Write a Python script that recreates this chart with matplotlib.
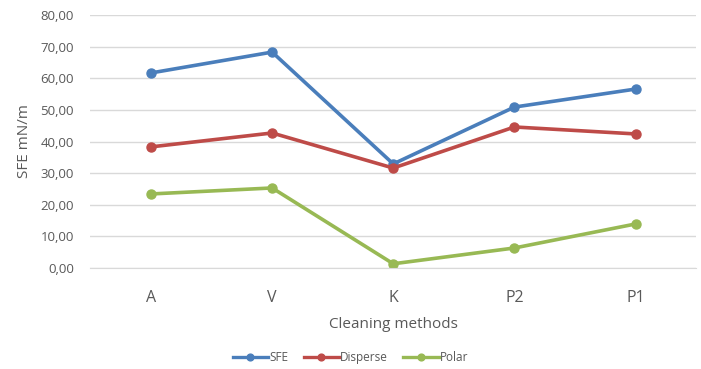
import matplotlib
matplotlib.use("Agg")
import matplotlib.pyplot as plt
from matplotlib.ticker import FuncFormatter

plt.rcParams['font.family'] = ['Open Sans', 'DejaVu Sans']

# cleaning methods and surface free energy components (mN/m)
methods = ["A", "V", "K", "P2", "P1"]
sfe = [61.7, 68.3, 32.9, 50.9, 56.6]
disperse = [38.3, 42.7, 31.6, 44.6, 42.4]
polar = [23.4, 25.3, 1.3, 6.3, 13.9]

text_col = "#595959"

fig = plt.figure(figsize=(7.01, 3.69), dpi=100)
ax = fig.add_axes([0.129, 0.274, 0.864, 0.685])

x = list(range(len(methods)))
ax.plot(x, sfe, color="#4A7EBB", lw=2.6, marker="o", ms=6.5, label="SFE")
ax.plot(x, disperse, color="#BE4B48", lw=2.6, marker="o", ms=6.5, label="Disperse")
ax.plot(x, polar, color="#98B954", lw=2.6, marker="o", ms=6.5, label="Polar")

ax.set_xlim(-0.5, len(methods) - 0.5)
ax.set_ylim(0, 80)
ax.set_yticks(range(0, 81, 10))
ax.yaxis.set_major_formatter(FuncFormatter(lambda v, p: f"{v:.2f}".replace(".", ",")))
ax.set_xticks(x)
ax.set_xticklabels(methods)

ax.grid(axis="y", color="#d9d9d9", lw=1)
ax.set_axisbelow(True)
for s in ax.spines.values():
    s.set_visible(False)
ax.spines["bottom"].set_visible(True)
ax.spines["bottom"].set_color("#d9d9d9")
ax.tick_params(axis="both", length=0, colors=text_col)
ax.tick_params(axis="y", labelsize=9.5, pad=12)
ax.tick_params(axis="x", labelsize=11.5, pad=16)

ax.set_xlabel("Cleaning methods", fontsize=11, color=text_col, labelpad=8)
ax.set_ylabel("SFE mN/m", fontsize=11, color=text_col, labelpad=6)

leg = fig.legend(loc="center", bbox_to_anchor=(0.5, 0.03), ncol=3, frameon=False,
                 fontsize=8.5, labelcolor=text_col, handlelength=3, columnspacing=1.3,
                 handletextpad=0.1, markerscale=0.75)
for h in leg.legend_handles:
    h.set_linewidth(2.4)

fig.savefig("out.png", dpi=100)
